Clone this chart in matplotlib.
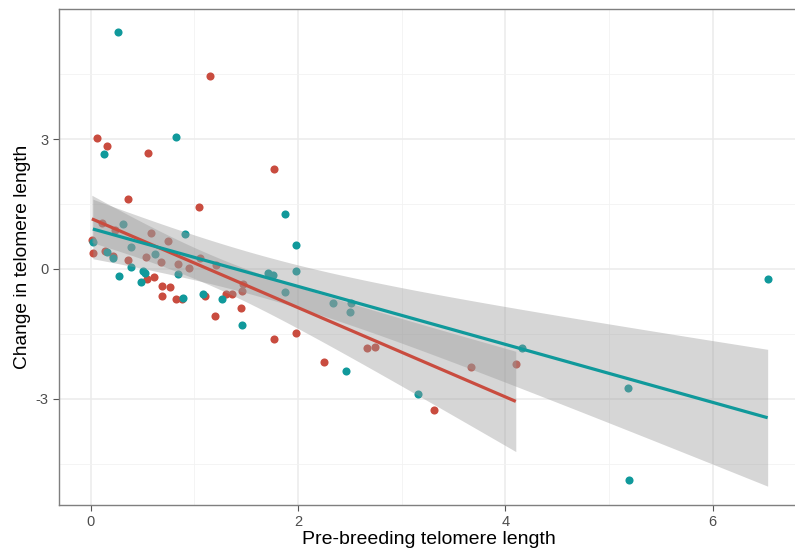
import matplotlib.pyplot as plt
import numpy as np

plt.rcParams['font.family'] = ['Liberation Sans', 'DejaVu Sans']
plt.rcParams['axes.unicode_minus'] = False

# data
red_x = [0.06, 0.16, 0.55, 0.36, 1.15, 1.77, 1.04, 0.01, 0.02, 0.105, 0.23, 0.58,
         0.74, 0.14, 0.21, 0.36, 0.53, 0.68, 0.54, 0.61, 0.69, 0.76, 0.69, 0.82,
         0.88, 0.84, 0.95, 1.05, 1.21, 1.10, 1.30, 1.36, 1.45, 1.20, 1.46, 1.47,
         1.77, 1.98, 2.66, 2.74, 2.25, 3.31, 3.67, 4.10]
red_y = [3.02, 2.84, 2.68, 1.62, 4.46, 2.31, 1.43, 0.67, 0.37, 1.06, 0.90, 0.83,
         0.65, 0.42, 0.29, 0.21, 0.28, 0.16, -0.23, -0.18, -0.39, -0.41, -0.62, -0.69,
         -0.69, 0.12, 0.02, 0.25, 0.09, -0.62, -0.58, -0.58, -0.90, -1.08, -0.50, -0.35,
         -1.62, -1.48, -1.82, -1.80, -2.15, -3.26, -2.26, -2.19]

teal_x = [0.26, 0.82, 0.13, 1.87, 1.98, 1.98, 0.02, 0.31, 0.91, 0.39, 0.16, 0.21,
          0.62, 0.27, 0.39, 0.50, 0.52, 0.48, 0.89, 0.84, 1.08, 1.27, 1.46, 1.71,
          1.76, 1.87, 2.34, 2.50, 2.51, 2.46, 3.16, 4.16, 6.53, 5.18, 5.19]
teal_y = [5.47, 3.05, 2.66, 1.27, 0.55, -0.05, 0.62, 1.04, 0.81, 0.51, 0.39, 0.25,
          0.35, -0.16, 0.05, -0.05, -0.10, -0.30, -0.67, -0.12, -0.58, -0.69, -1.29, -0.09,
          -0.14, -0.53, -0.78, -0.99, -0.78, -2.36, -2.89, -1.82, -0.23, -2.75, -4.87]

red_col = '#C94C3F'
teal_col = '#10999B'

# 绘图
fig = plt.figure(figsize=(7.95, 5.51), dpi=100)
ax = fig.add_axes([0.0742, 0.0835, 0.93, 0.900])


def smooth(x, y, col):
    x = np.array(x)
    y = np.array(y)
    n = len(x)
    b, a = np.polyfit(x, y, 1)
    xs = np.linspace(x.min(), x.max(), 80)
    ys = a + b * xs
    res = y - (a + b * x)
    s = np.sqrt(np.sum(res ** 2) / (n - 2))
    se = s * np.sqrt(1 / n + (xs - x.mean()) ** 2 / np.sum((x - x.mean()) ** 2))
    t = 2.02
    ax.fill_between(xs, ys - t * se, ys + t * se, color='#999999', alpha=0.4,
                    linewidth=0, zorder=3)
    ax.plot(xs, ys, color=col, lw=2.3, zorder=4, solid_capstyle='butt')


ax.scatter(red_x, red_y, s=34, color=red_col, zorder=2, linewidths=0)
ax.scatter(teal_x, teal_y, s=34, color=teal_col, zorder=2, linewidths=0)
smooth(red_x, red_y, red_col)
smooth(teal_x, teal_y, teal_col)

ax.set_xlim(-0.307, 6.756 + 0.07)
ax.set_ylim(-5.45, 6.0)
ax.set_xticks([0, 2, 4, 6])
ax.set_yticks([-3, 0, 3])
ax.set_xticks([1, 3, 5], minor=True)
ax.set_yticks([-4.5, -1.5, 1.5, 4.5], minor=True)
ax.grid(which='major', color='#EBEBEB', lw=1.1, zorder=0)
ax.grid(which='minor', color='#F2F2F2', lw=0.6, zorder=0)
ax.set_axisbelow(True)
ax.tick_params(which='major', length=4, color='#555555', labelcolor='#4D4D4D',
               labelsize=10.5)
ax.tick_params(which='minor', length=0)
for sp in ax.spines.values():
    sp.set_color('#7F7F7F')
    sp.set_linewidth(1.0)
ax.set_xlabel('Pre-breeding telomere length', fontsize=14, labelpad=1)
ax.set_ylabel('Change in telomere length', fontsize=13.8, labelpad=3)

fig.savefig('out.png', dpi=100)
